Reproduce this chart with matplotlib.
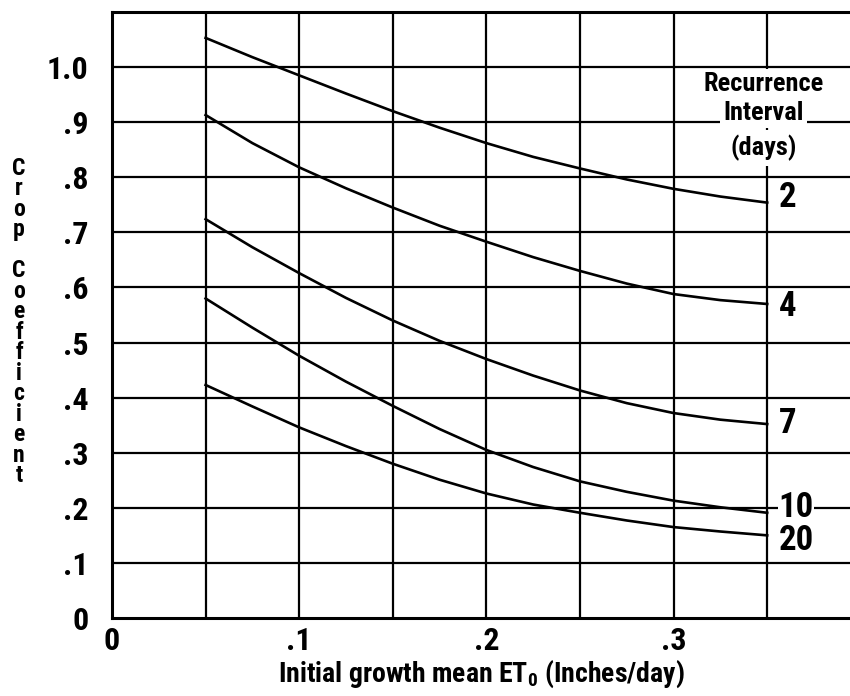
import matplotlib
matplotlib.use("Agg")
import matplotlib.pyplot as plt
from matplotlib import font_manager

# ---- data ----
x_et0 = [0.05, 0.075, 0.10, 0.125, 0.15, 0.175, 0.20, 0.225, 0.25, 0.275, 0.30, 0.325, 0.35]
kc_2 = [1.053, 1.018, 0.985, 0.952, 0.920, 0.890, 0.862, 0.837, 0.816, 0.796, 0.779, 0.765, 0.754]
kc_4 = [0.913, 0.862, 0.818, 0.780, 0.745, 0.712, 0.683, 0.655, 0.630, 0.607, 0.588, 0.577, 0.570]
kc_7 = [0.724, 0.673, 0.626, 0.581, 0.540, 0.503, 0.470, 0.440, 0.413, 0.390, 0.372, 0.360, 0.352]
kc_10 = [0.580, 0.527, 0.476, 0.429, 0.385, 0.343, 0.305, 0.274, 0.248, 0.229, 0.213, 0.201, 0.191]
kc_20 = [0.423, 0.384, 0.346, 0.312, 0.280, 0.251, 0.226, 0.206, 0.191, 0.177, 0.165, 0.157, 0.150]
series_labels = ["2", "4", "7", "10", "20"]
label_y = [0.764, 0.565, 0.353, 0.200, 0.140]

x_ticks = [0, 0.1, 0.2, 0.3]
x_ticklabels = ["0", ".1", ".2", ".3"]
y_ticks = [0, 0.1, 0.2, 0.3, 0.4, 0.5, 0.6, 0.7, 0.8, 0.9, 1.0]
y_ticklabels = ["0", ".1", ".2", ".3", ".4", ".5", ".6", ".7", ".8", ".9", "1.0"]
x_grid = [0.05, 0.10, 0.15, 0.20, 0.25, 0.30, 0.35]
y_grid = [0.1, 0.2, 0.3, 0.4, 0.5, 0.6, 0.7, 0.8, 0.9, 1.0]

# ---- font: prefer a condensed bold face ----
entries = font_manager.fontManager.ttflist
names = {f.name for f in entries}
STRETCH = "normal"
FAM = ["DejaVu Sans"]
for cand in ["Liberation Sans Narrow", "Roboto Condensed", "Open Sans Condensed",
             "Noto Sans Condensed", "DejaVu Sans Condensed", "Arial Narrow"]:
    if cand in names:
        FAM = [cand, "DejaVu Sans"]
        break
else:
    if any(f.name == "DejaVu Sans" and str(f.stretch) in ("condensed", "semi-condensed")
           and f.weight in ("bold", 700) for f in entries):
        STRETCH = "condensed"
    else:
        for f in entries:
            if ("Condensed" in f.name or "Narrow" in f.name):
                FAM = [f.name, "DejaVu Sans"]
                break
        else:
            cands = [f for f in entries if str(f.stretch) in ("condensed", "semi-condensed")]
            if cands:
                FAM = [cands[0].name, "DejaVu Sans"]
                STRETCH = "condensed"

plt.rcParams["font.family"] = FAM
plt.rcParams["font.weight"] = "bold"
plt.rcParams["font.stretch"] = STRETCH
plt.rcParams["mathtext.fontset"] = "custom"
plt.rcParams["mathtext.rm"] = FAM[0] + ":bold"
plt.rcParams["mathtext.it"] = FAM[0] + ":bold"
plt.rcParams["mathtext.bf"] = FAM[0] + ":bold"

TXT = dict(fontweight="bold", fontstretch=STRETCH)

fig = plt.figure(figsize=(8.5, 6.96), dpi=100)
L, B, T = 112 / 850, 1 - 618 / 696, 1 - 12 / 696
ax = fig.add_axes([L, B, 1.0 - L, T - B])
ax.set_xlim(0, (850 - 112) / 1872)
ax.set_ylim(0, 1.1)

for xv in x_grid:
    ax.axvline(xv, color="black", lw=1.6, zorder=1)
for yv in y_grid:
    ax.axhline(yv, color="black", lw=1.6, zorder=1)

for ys in [kc_2, kc_4, kc_7, kc_10, kc_20]:
    ax.plot(x_et0, ys, color="black", lw=1.9, zorder=2)

for lab, yv in zip(series_labels, label_y):
    ax.text(0.3562, yv, lab, fontsize=25, ha="left", va="center", zorder=5,
            bbox=dict(facecolor="white", edgecolor="none", pad=0.3), **TXT)

for txt, yv, z, pd in [("Recurrence", 0.970, 5, 2.0), ("(days)", 0.853, 5, 3.5),
                       ("Interval", 0.917, 6, 2.0)]:
    ax.text(0.348, yv, txt, fontsize=19, ha="center", va="center", zorder=z,
            bbox=dict(facecolor="white", edgecolor="none", pad=pd), **TXT)

for s in ["left", "bottom", "top"]:
    ax.spines[s].set_linewidth(2.2)
ax.spines["right"].set_visible(False)

ax.set_xticks(x_ticks)
ax.set_xticklabels(x_ticklabels, fontsize=23, **TXT)
ax.set_yticks(y_ticks)
ax.set_yticklabels(y_ticklabels, fontsize=23, **TXT)
ax.tick_params(length=0)
ax.tick_params(axis="x", pad=6)
ax.tick_params(axis="y", pad=17)

ax.set_xlabel(r"Initial growth mean ET$_0$ (Inches/day)", fontsize=20, labelpad=2, **TXT)

ylabel = "\n".join(list("Crop")) + "\n\n" + "\n".join(list("Coefficient"))
fig.text(19 / 850, 1 - 322 / 696, ylabel, fontsize=17, ha="center", va="center",
         linespacing=0.86, **TXT)

fig.savefig("out.png", dpi=100)
